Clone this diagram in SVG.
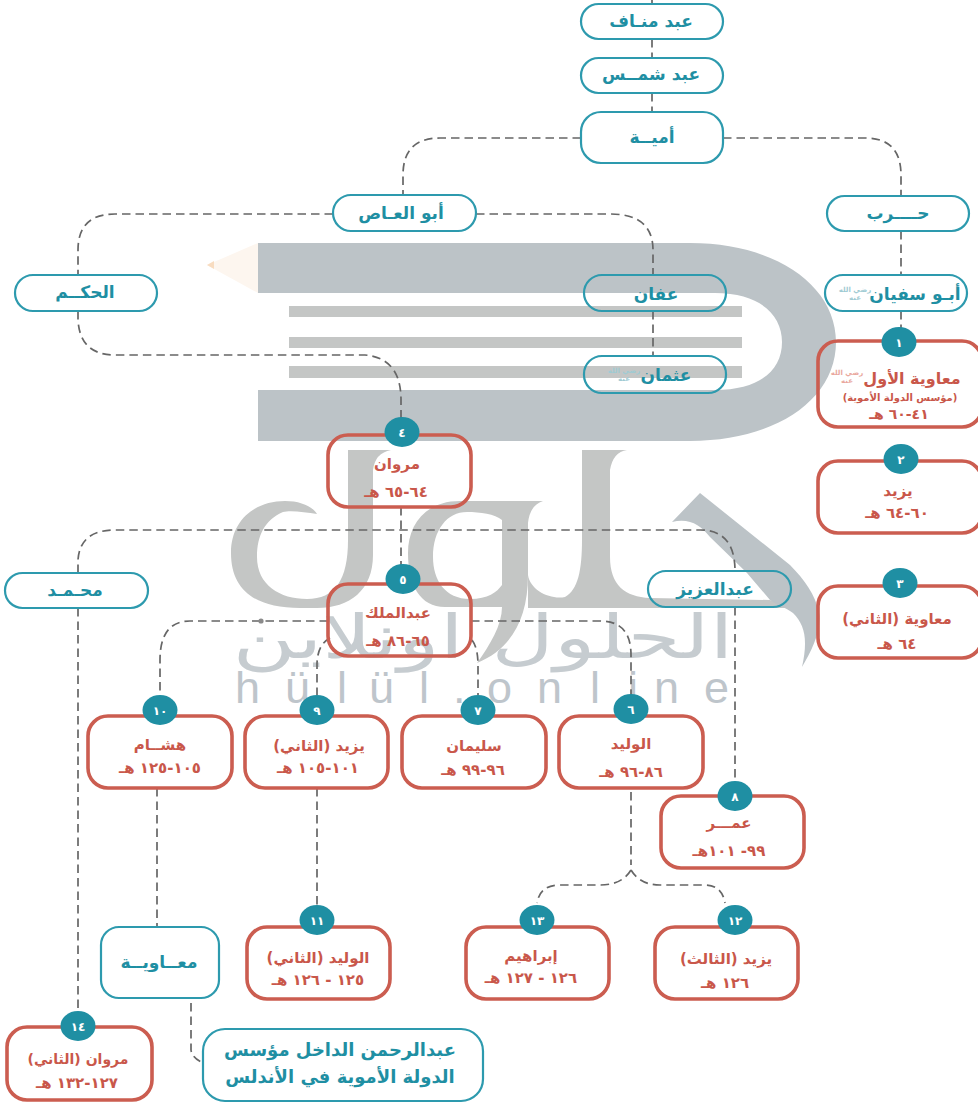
<svg xmlns="http://www.w3.org/2000/svg" width="978" height="1104" viewBox="0 0 978 1104">
<style>
text{font-family:"DejaVu Sans","Noto Sans CJK SC",sans-serif;direction:rtl;text-anchor:middle;font-weight:bold}
.p{fill:none;stroke:#2d9aae;stroke-width:2.2}
.r{fill:none;stroke:#cb5d50;stroke-width:3.6}
.b{fill:#1f8fa3}
.t{fill:#1f8fa3;font-size:17px}
.h{fill:#9fcbd3;font-size:7px}
.hr{fill:#e9a79d;font-size:7px}
.n{fill:#c9574a;font-size:15px}
.d{fill:#c9574a;font-size:15px}
.w{fill:#fff;font-size:12px}
.g1{fill:#bcc3c7}
.g2{fill:#c4c6c5}
.c{fill:none;stroke:#666;stroke-width:1.7;stroke-dasharray:8.5 5}
</style>
<rect width="978" height="1104" fill="#fff"/>
<g id="watermark">
<path class="g1" d="M258 243H690C775 243 836 285 836 342C836 400 775 441 690 441H258V390H715C760 390 782 370 782 342C782 315 760 293 715 293H258Z"/>
<path d="M258 243L207 265L258 293Z" fill="#fdf6ef"/>
<path d="M214 261L207 265L214 269Z" fill="#f8dcc0"/>
<rect class="g2" x="289" y="306" width="453" height="11"/>
<rect class="g2" x="289" y="337" width="453" height="11"/>
<rect class="g2" x="289" y="366" width="453" height="12"/>
<path class="g2" d="M348 450H391Q375 453 373 470V555C373 590 350 608 317 608H300C255 608 231 590 231 553C231 520 255 501 285 501C300 501 312 506 317 514C305 512 290 510 283 512C265 520 257 535 257 557C257 585 280 599 307 599C335 599 348 580 348 540Z"/>
<path class="g2" fill-rule="evenodd" d="M543 501H460C425 501 408 525 408 553C408 585 420 607 445 607H502C502 625 490 645 477 663C510 650 528 620 528 575V523Q530 505 543 501ZM467 512C447 512 433 530 433 557C433 580 445 599 470 599C488 599 497 592 502 585V520C495 514 480 512 467 512Z"/>
<path class="g2" d="M582 450H627Q613 452 610 470V557C610 585 625 597 650 598L770 600L790 608H528V575C530 590 550 600 565 597C578 590 582 570 582 540Z"/>
<path class="g1" d="M700 493L790 565C805 580 815 595 819 612C822 630 812 650 802 667C808 640 805 625 793 613C785 607 778 606 770 600L747 573L710 537C700 525 690 518 672 522Z"/>
<text x="483" y="658" font-size="60" textLength="501" lengthAdjust="spacingAndGlyphs" style="font-weight:normal;fill:#c6ccd0">الحلول اونلاين</text>
<text x="235 285 337 369 419 453 487 537 590 628 654 704" y="703" font-size="45" style="font-family:'Liberation Sans',sans-serif;font-weight:normal;direction:ltr;text-anchor:start;fill:#bec5cb">hülül.online</text>
</g>
<g id="connectors">
<path class="c" d="M652 0V4M652 39V58M652 93V112"/>
<path class="c" d="M723 138H865Q901 138 901 175V196"/>
<path class="c" d="M581 138H440Q403 138 403 175V195"/>
<path class="c" d="M901 231V275M901 311V330"/>
<path class="c" d="M476 214H610Q653 214 653 250V275M653 311V356"/>
<path class="c" d="M333 214H115Q78 214 78 250V275"/>
<path class="c" d="M78 311V320Q80 355 115 355H365Q401 358 401 400V418"/>
<path class="c" d="M401 507V565"/>
<path class="c" d="M78 573V560Q80 530 115 530H700Q735 530 735 571"/>
<path class="c" d="M735 607V781"/>
<path class="c" d="M328 621H190Q160 621 160 660V695"/>
<path class="c" d="M471 621H600Q631 621 631 655V695"/>
<path class="c" d="M330 638Q317 645 317 665V695"/>
<path class="c" d="M472 640Q478 648 478 665V695"/>
<path class="c" d="M157 788V927"/>
<path class="c" d="M317 788V905"/>
<path class="c" d="M631 792V865"/>
<path class="c" d="M631 870Q622 885 600 885H560Q540 885 537 903"/>
<path class="c" d="M631 870Q640 885 660 885H705Q722 885 725 903"/>
<path class="c" d="M78 608V1012"/>
<path class="c" d="M191 1003V1050Q192 1058 203 1063"/>
<circle cx="261" cy="621" r="2.6" fill="#8a8a8a"/>
</g>
<g id="n-abdmanaf"><rect class="p" x="581" y="4" width="142" height="35" rx="17.5"/><text class="t" x="651" y="27">عبد منـاف</text></g>
<g id="n-abdshams"><rect class="p" x="581" y="58" width="142" height="35" rx="17.5"/><text class="t" x="651" y="80">عبد شمــس</text></g>
<g id="n-umayya"><rect class="p" x="581" y="112" width="142" height="51" rx="20"/><text class="t" x="652" y="143">أميــة</text></g>
<g id="n-harb"><rect class="p" x="827" y="196" width="142" height="35" rx="17.5"/><text class="t" x="898" y="219">حــــرب</text></g>
<g id="n-abuasi"><rect class="p" x="333" y="195" width="143" height="36" rx="18"/><text class="t" x="401" y="219">أبو العـاص</text></g>
<g id="n-abusufyan"><rect class="p" x="825" y="275" width="142" height="36" rx="18"/><text class="t" x="915" y="300">أبـو سفيان</text><text class="h" x="855" y="292">رضي الله</text><text class="h" x="855" y="300">عنه</text></g>
<g id="n-hakam"><rect class="p" x="15" y="275" width="142" height="36" rx="18"/><text class="t" x="85" y="298">الحكــم</text></g>
<g id="n-affan"><rect class="p" x="584" y="275" width="142" height="36" rx="18"/><text class="t" x="656" y="300">عفان</text></g>
<g id="n-uthman"><rect class="p" x="584" y="356" width="142" height="37" rx="18"/><text class="t" x="666" y="381">عثمان</text><text class="h" x="624" y="373">رضي الله</text><text class="h" x="624" y="381">عنه</text></g>
<g id="n-muhammad"><rect class="p" x="5" y="573" width="143" height="35" rx="17.5"/><text class="t" x="75" y="596">محـمـد</text></g>
<g id="n-abdalaziz"><rect class="p" x="648" y="571" width="143" height="36" rx="18"/><text class="t" x="715" y="595">عبدالعزيز</text></g>
<g id="n-muawiya2"><rect class="p" x="101" y="927" width="118" height="71" rx="18"/><text class="t" x="159" y="968">معــاويــة</text></g>
<g id="n-abdalrahman"><rect class="p" x="203" y="1029" width="280" height="72" rx="22"/><text class="t" x="340" y="1056" style="font-size:18px">عبدالرحمن الداخل مؤسس</text><text class="t" x="340" y="1083" style="font-size:18px">الدولة الأموية في الأندلس</text></g>

<g id="n1"><rect class="r" x="818" y="341" width="164" height="86" rx="20"/><ellipse class="b" cx="899" cy="342" rx="17.5" ry="15"/><text class="w" x="899" y="347">١</text><text class="n" x="912" y="384" style="font-size:16px">معاوية الأول</text><text class="hr" x="847" y="375">رضي الله</text><text class="hr" x="847" y="383">عنه</text><text class="n" x="900" y="401" style="font-size:10px">(مؤسس الدولة الأموية)</text><text class="d" x="899" y="419" style="font-size:14px">٤١-٦٠ هـ</text></g>
<g id="n2"><rect class="r" x="818" y="461" width="164" height="72" rx="20"/><ellipse class="b" cx="901" cy="459" rx="17.5" ry="15"/><text class="w" x="901" y="464">٢</text><text class="n" x="898" y="496">يزيد</text><text class="d" x="897" y="518">٦٠-٦٤ هـ</text></g>
<g id="n3"><rect class="r" x="818" y="586" width="164" height="72" rx="20"/><ellipse class="b" cx="900" cy="583" rx="17.5" ry="15"/><text class="w" x="900" y="588">٣</text><text class="n" x="897" y="624">معاوية (الثاني)</text><text class="d" x="897" y="649">٦٤ هـ</text></g>
<g id="n4"><rect class="r" x="328" y="435" width="143" height="72" rx="20"/><ellipse class="b" cx="402" cy="432" rx="17.5" ry="15"/><text class="w" x="402" y="437">٤</text><text class="n" x="397" y="469">مروان</text><text class="d" x="396" y="497">٦٤-٦٥ هـ</text></g>
<g id="n5"><rect class="r" x="328" y="584" width="143" height="72" rx="20"/><ellipse class="b" cx="403" cy="579" rx="17.5" ry="15"/><text class="w" x="403" y="584">٥</text><text class="n" x="398" y="618">عبدالملك</text><text class="d" x="398" y="646">٦٥-٨٦ هـ</text></g>
<g id="n6"><rect class="r" x="559" y="716" width="144" height="72" rx="20"/><ellipse class="b" cx="631" cy="709" rx="17.5" ry="15"/><text class="w" x="631" y="714">٦</text><text class="n" x="631" y="749">الوليد</text><text class="d" x="631" y="777">٨٦-٩٦ هـ</text></g>
<g id="n7"><rect class="r" x="402" y="716" width="144" height="72" rx="20"/><ellipse class="b" cx="478" cy="710" rx="17.5" ry="15"/><text class="w" x="478" y="715">٧</text><text class="n" x="474" y="751">سليمان</text><text class="d" x="473" y="775">٩٦-٩٩ هـ</text></g>
<g id="n8"><rect class="r" x="661" y="796" width="143" height="72" rx="20"/><ellipse class="b" cx="735" cy="796" rx="17.5" ry="15"/><text class="w" x="735" y="801">٨</text><text class="n" x="729" y="828">عمـــر</text><text class="d" x="729" y="856">٩٩- ١٠١هـ</text></g>
<g id="n9"><rect class="r" x="245" y="716" width="143" height="72" rx="20"/><ellipse class="b" cx="317" cy="710" rx="17.5" ry="15"/><text class="w" x="317" y="715">٩</text><text class="n" x="319" y="751">يزيد (الثاني)</text><text class="d" x="318" y="773">١٠١-١٠٥ هـ</text></g>
<g id="n10"><rect class="r" x="88" y="716" width="144" height="72" rx="20"/><ellipse class="b" cx="160" cy="710" rx="17.5" ry="15"/><text class="w" x="160" y="715">١٠</text><text class="n" x="160" y="750">هشــام</text><text class="d" x="160" y="773">١٠٥-١٢٥ هـ</text></g>
<g id="n11"><rect class="r" x="247" y="927" width="143" height="72" rx="20"/><ellipse class="b" cx="317" cy="920" rx="17.5" ry="15"/><text class="w" x="317" y="925">١١</text><text class="n" x="318" y="963">الوليد (الثاني)</text><text class="d" x="318" y="985">١٢٥ - ١٢٦ هـ</text></g>
<g id="n12"><rect class="r" x="655" y="927" width="143" height="72" rx="20"/><ellipse class="b" cx="735" cy="920" rx="17.5" ry="15"/><text class="w" x="735" y="925">١٢</text><text class="n" x="726" y="964">يزيد (الثالث)</text><text class="d" x="725" y="988">١٢٦ هـ</text></g>
<g id="n13"><rect class="r" x="466" y="927" width="143" height="72" rx="20"/><ellipse class="b" cx="537" cy="920" rx="17.5" ry="15"/><text class="w" x="537" y="925">١٣</text><text class="n" x="531" y="961">إبراهيم</text><text class="d" x="531" y="983">١٢٦ - ١٢٧ هـ</text></g>
<g id="n14"><rect class="r" x="7" y="1027" width="145" height="73" rx="20"/><ellipse class="b" cx="78" cy="1026" rx="17.5" ry="15"/><text class="w" x="78" y="1031">١٤</text><text class="n" x="78" y="1064" style="font-size:14px">مروان (الثاني)</text><text class="d" x="77" y="1088">١٢٧-١٣٢ هـ</text></g>
</svg>
